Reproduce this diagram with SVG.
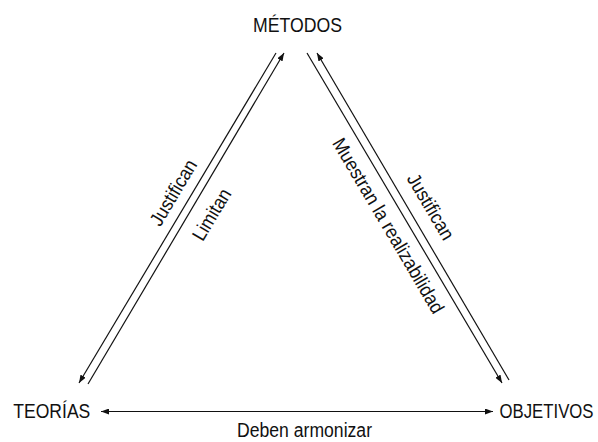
<svg xmlns="http://www.w3.org/2000/svg" width="598" height="442" viewBox="0 0 598 442">
<style>
.t{font-family:"Liberation Sans",Arial,sans-serif;font-size:19.5px;fill:#111}
.c{stroke:#111;stroke-width:1.2;fill:none}
</style>
<defs>
<marker id="ah" viewBox="0 0 8 6" refX="8" refY="3" markerWidth="8" markerHeight="6" markerUnits="userSpaceOnUse" orient="auto-start-reverse">
<path d="M0,0 L8,3 L0,6 z" fill="#111"/>
</marker>
</defs>
<rect width="598" height="442" fill="#fff"/>
<g id="metodos"><text class="t" x="253" y="32" textLength="89" lengthAdjust="spacingAndGlyphs">MÉTODOS</text></g>
<g id="teorias"><text class="t" x="13.3" y="418" textLength="77" lengthAdjust="spacingAndGlyphs">TEORÍAS</text></g>
<g id="objetivos"><text class="t" transform="translate(499.5,418) scale(0.86,1)">OBJETIVOS</text></g>
<g id="connectors">
<line class="c" x1="276" y1="53" x2="79" y2="383" marker-end="url(#ah)"/>
<line class="c" x1="88" y1="384" x2="284" y2="53" marker-end="url(#ah)"/>
<line class="c" x1="307" y1="53" x2="502" y2="383" marker-end="url(#ah)"/>
<line class="c" x1="509" y1="380" x2="317" y2="53" marker-end="url(#ah)"/>
<line class="c" x1="101" y1="411.5" x2="493" y2="411.5" marker-start="url(#ah)" marker-end="url(#ah)"/>
<text class="t" transform="translate(179,196) rotate(-59.16)" x="-36.7" textLength="73.4" lengthAdjust="spacingAndGlyphs">Justifican</text>
<text class="t" transform="translate(217.4,217.8) rotate(-59.16)" x="-28.4" textLength="56.7" lengthAdjust="spacingAndGlyphs">Limitan</text>
<text class="t" transform="translate(382.7,229) rotate(59.42)" x="-100" textLength="200" lengthAdjust="spacingAndGlyphs">Muestran la realizabilidad</text>
<text class="t" transform="translate(425,210) rotate(59.42)" x="-36.7" textLength="73.4" lengthAdjust="spacingAndGlyphs">Justifican</text>
<text class="t" x="237" y="436.5" textLength="135" lengthAdjust="spacingAndGlyphs">Deben armonizar</text>
</g>
</svg>
